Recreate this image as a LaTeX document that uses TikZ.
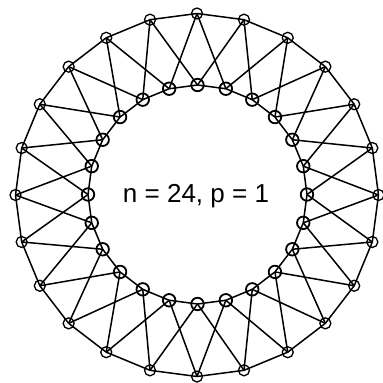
\documentclass[tikz,border=0pt]{standalone}
\usepackage{fontspec}
\setmainfont{Liberation Sans}
\begin{document}
\begin{tikzpicture}[x=1pt,y=-1pt,
  vert/.style={draw,circle,minimum size=11pt,inner sep=0pt,line width=1.3pt},
  ivert/.style={vert,minimum size=12.5pt,line width=1.8pt},
  edge/.style={line width=1.5pt,line join=round},
  lbl/.style={font=\fontsize{26}{30}\selectfont,inner sep=0pt}]
\useasboundingbox (0,0) rectangle (383,383);
\foreach \k in {0,...,23}{
  \pgfmathsetmacro\ang{90-15*\k}
  \node[vert] (o\k) at ({197+181.5*cos(\ang)},{195-181.5*sin(\ang)}) {};
  \node[ivert] (i\k) at ({197.5+109.5*cos(\ang)},{194.5-109.5*sin(\ang)}) {};
}
\foreach \k in {0,...,23}{
  \pgfmathtruncatemacro\nx{mod(\k+1,24)}
  \pgfmathtruncatemacro\pv{mod(\k+23,24)}
  \draw[edge] (o\k.center) -- (o\nx.center);
  \draw[edge] (i\k.center) -- (i\nx.center);
  \draw[edge] (o\k.center) -- (i\nx.center);
  \draw[edge] (o\k.center) -- (i\pv.center);
}
\node[lbl] (t) at (196,196) {n = 24, p = 1};
\end{tikzpicture}
\end{document}
